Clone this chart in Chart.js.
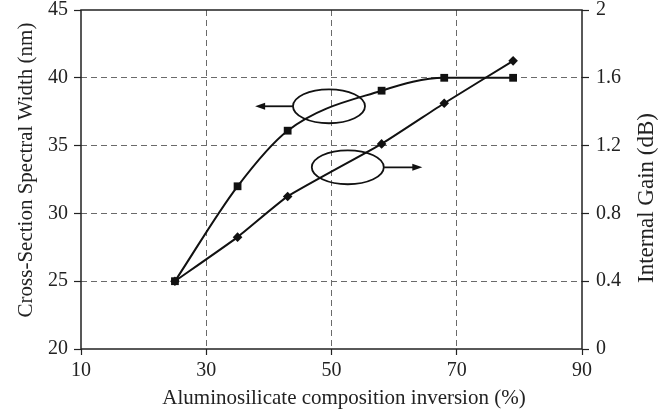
<!DOCTYPE html>
<html>
<head>
<meta charset="utf-8">
<script src="https://cdn.jsdelivr.net/npm/chart.js@4/dist/chart.umd.min.js"></script>
<style>
  html, body { margin: 0; padding: 0; background: #fff; }
  #wrap { width: 669px; height: 410px; position: relative; }
</style>
</head>
<body>
<div id="wrap"><canvas id="c"></canvas></div>
<script>
// Aluminosilicate composition inversion (%)
const inversion = [25, 35, 43, 58, 68, 79];
// Cross-section spectral width (nm), left axis
const spectralWidth = [25, 32, 36.1, 39.05, 40, 40];
// Internal gain (dB), right axis
const internalGain = [0.4, 0.66, 0.9, 1.21, 1.45, 1.7];

const xTicks = [10, 30, 50, 70, 90];
const widthTicks = [20, 25, 30, 35, 40, 45];
const gainTicks = [0, 0.4, 0.8, 1.2, 1.6, 2];

const xTitle = 'Aluminosilicate composition inversion (%)';
const leftTitle = 'Cross-Section Spectral Width (nm)';
const rightTitle = 'Internal Gain (dB)';

const FONT = '"Liberation Serif", "Times New Roman", serif';
const INK = '#222';

// Ellipse callouts with arrows pointing to the axis each curve belongs to (data units)
const callouts = [
  { cx: 49.6, cy: 37.9, rx: 5.75, ry: 1.25, from: 43.85, to: 37.8 },
  { cx: 52.6, cy: 33.4, rx: 5.75, ry: 1.25, from: 58.4, to: 64.5 }
];

function drawText(ctx, text, x, y, rot, size) {
  ctx.save();
  ctx.font = size + 'px ' + FONT;
  ctx.translate(x, y);
  if (rot) ctx.rotate(rot);
  ctx.fillText(text, 0, 0);
  ctx.restore();
}

const framePlugin = {
  id: 'frame',
  beforeDatasetsDraw(chart) {
    const { ctx, chartArea: a } = chart;
    ctx.save();
    ctx.strokeStyle = INK;
    ctx.lineWidth = 1.5;
    ctx.strokeRect(a.left, a.top, a.right - a.left, a.bottom - a.top);
    ctx.restore();
  },
  afterDatasetsDraw(chart) {
    const { ctx } = chart;
    const xs = chart.scales.x, ys = chart.scales.yL;
    ctx.save();
    ctx.strokeStyle = '#111';
    ctx.fillStyle = '#111';
    ctx.lineWidth = 1.8;
    callouts.forEach(c => {
      const cx = xs.getPixelForValue(c.cx), cy = ys.getPixelForValue(c.cy);
      const rx = Math.abs(xs.getPixelForValue(c.cx + c.rx) - cx);
      const ry = Math.abs(ys.getPixelForValue(c.cy + c.ry) - cy);
      ctx.beginPath();
      ctx.ellipse(cx, cy, rx, ry, 0, 0, Math.PI * 2);
      ctx.stroke();
      const x0 = xs.getPixelForValue(c.from), x1 = xs.getPixelForValue(c.to);
      const dir = Math.sign(x1 - x0);
      ctx.beginPath();
      ctx.moveTo(x0, cy);
      ctx.lineTo(x1 - dir * 6, cy);
      ctx.stroke();
      ctx.beginPath();
      ctx.moveTo(x1, cy);
      ctx.lineTo(x1 - dir * 10, cy - 3.5);
      ctx.lineTo(x1 - dir * 10, cy + 3.5);
      ctx.closePath();
      ctx.fill();
    });
    // Axis titles
    ctx.fillStyle = INK;
    ctx.textAlign = 'center';
    ctx.textBaseline = 'alphabetic';
    drawText(ctx, xTitle, 344, 404, 0, 21);
    drawText(ctx, leftTitle, 32, 170, -Math.PI / 2, 21);
    drawText(ctx, rightTitle, 653, 198, -Math.PI / 2, 23);
    ctx.restore();
  }
};

const edgeGrid = (edges) => (ctx) => {
  const v = ctx.tick ? ctx.tick.value : null;
  return edges.includes(v) ? 'rgba(0,0,0,0)' : '#6a6a6a';
};
const noPad = s => { s.paddingTop = 0; s.paddingBottom = 0; s.paddingLeft = 0; s.paddingRight = 0; };

new Chart(document.getElementById('c'), {
  type: 'scatter',
  data: {
    datasets: [
      {
        label: leftTitle,
        data: inversion.map((x, i) => ({ x, y: spectralWidth[i] })),
        yAxisID: 'yL',
        showLine: true,
        borderColor: '#111',
        backgroundColor: '#111',
        borderWidth: 2,
        pointStyle: 'rect',
        pointRadius: 5.5,
        pointBorderWidth: 0,
        cubicInterpolationMode: 'monotone'
      },
      {
        label: rightTitle,
        data: inversion.map((x, i) => ({ x, y: internalGain[i] })),
        yAxisID: 'yR',
        showLine: true,
        borderColor: '#111',
        backgroundColor: '#111',
        borderWidth: 2,
        pointStyle: 'rectRot',
        pointRadius: 4.8,
        pointBorderWidth: 0,
        tension: 0.15
      }
    ]
  },
  options: {
    responsive: true,
    maintainAspectRatio: false,
    animation: false,
    layout: { padding: { top: 10, left: 0, right: 0, bottom: 0 } },
    plugins: { legend: { display: false }, tooltip: { enabled: false } },
    scales: {
      x: {
        type: 'linear',
        min: 10, max: 90,
        afterBuildTicks: s => { s.ticks = xTicks.map(v => ({ value: v })); },
        afterFit: s => { s.height = 61; noPad(s); },
        border: { display: false, dash: [6, 4] },
        grid: {
          color: edgeGrid([10, 90]),
          lineWidth: 1,
          tickBorderDash: [],
          tickColor: INK,
          tickLength: 6,
          tickWidth: 1.2
        },
        ticks: { color: INK, padding: 4, font: { family: FONT, size: 20 } }
      },
      yL: {
        type: 'linear',
        position: 'left',
        min: 20, max: 45,
        afterBuildTicks: s => { s.ticks = widthTicks.map(v => ({ value: v })); },
        afterFit: s => { s.width = 81; noPad(s); },
        border: { display: false, dash: [6, 4] },
        grid: {
          color: edgeGrid([20, 45]),
          lineWidth: 1,
          tickBorderDash: [],
          tickColor: INK,
          tickLength: 7,
          tickWidth: 1.2
        },
        ticks: { color: INK, padding: 6, font: { family: FONT, size: 20 } }
      },
      yR: {
        type: 'linear',
        position: 'right',
        min: 0, max: 2,
        afterBuildTicks: s => { s.ticks = gainTicks.map(v => ({ value: v })); },
        afterFit: s => { s.width = 87; noPad(s); },
        border: { display: false },
        grid: {
          drawOnChartArea: false,
          tickBorderDash: [],
          tickColor: INK,
          tickLength: 7,
          tickWidth: 1.2
        },
        ticks: {
          color: INK, padding: 7, font: { family: FONT, size: 20 },
          callback: v => String(v)
        }
      }
    }
  },
  plugins: [framePlugin]
});
</script>
</body>
</html>
